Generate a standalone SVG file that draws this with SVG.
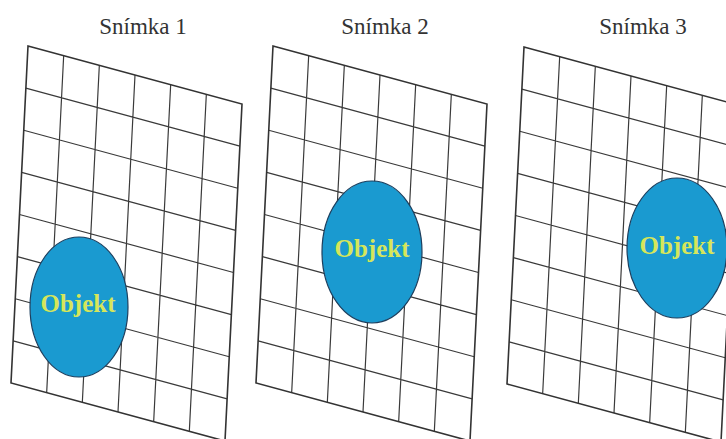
<svg xmlns="http://www.w3.org/2000/svg" xmlns:xlink="http://www.w3.org/1999/xlink" width="726" height="439" viewBox="0 0 726 439">
<style>
.title{font-family:"Liberation Serif","Times New Roman",serif;font-size:23px;fill:#333;text-anchor:middle}
.grid{fill:none;stroke:#3a3a3a;stroke-width:1.2}
.border{fill:none;stroke:#333;stroke-width:1.6}
.obj{fill:#1a9ad0;stroke:#1d3f5e;stroke-width:1.2}
.lbl{font-family:"Liberation Serif","Times New Roman",serif;font-weight:bold;font-size:25px;fill:#d6e65a;text-anchor:middle}
</style>
<defs>
<g id="grid">
<path class="grid" d="M63.67,55.67L46.67,392.67M99.33,65.33L82.33,402.33M135,75L118,412M170.67,84.67L153.67,421.67M206.33,94.33L189.33,431.33M25.875,88.125L239.875,146.125M23.75,130.25L237.75,188.25M21.625,172.375L235.625,230.375M19.5,214.5L233.5,272.5M17.375,256.625L231.375,314.625M15.25,298.75L229.25,356.75M13.125,340.875L227.125,398.875"/>
<path class="border" d="M28,46L242,104L225,441L11,383Z"/>
</g>
</defs>
<rect width="726" height="439" fill="#fff"/>
<g id="panel1">
<text class="title" x="143" y="34">Snímka 1</text>
<use xlink:href="#grid" href="#grid"/>
<ellipse class="obj" cx="79" cy="307" rx="49" ry="70"/>
<text class="lbl" x="78" y="312">Objekt</text>
</g>
<g id="panel2">
<text class="title" x="385" y="34">Snímka 2</text>
<use xlink:href="#grid" href="#grid" transform="translate(245,0)"/>
<ellipse class="obj" cx="372" cy="252" rx="50" ry="71"/>
<text class="lbl" x="372" y="257">Objekt</text>
</g>
<g id="panel3">
<text class="title" x="643" y="34">Snímka 3</text>
<use xlink:href="#grid" href="#grid" transform="translate(496,1)"/>
<ellipse class="obj" cx="677" cy="248" rx="50" ry="70"/>
<text class="lbl" x="677" y="254">Objekt</text>
</g>
</svg>
